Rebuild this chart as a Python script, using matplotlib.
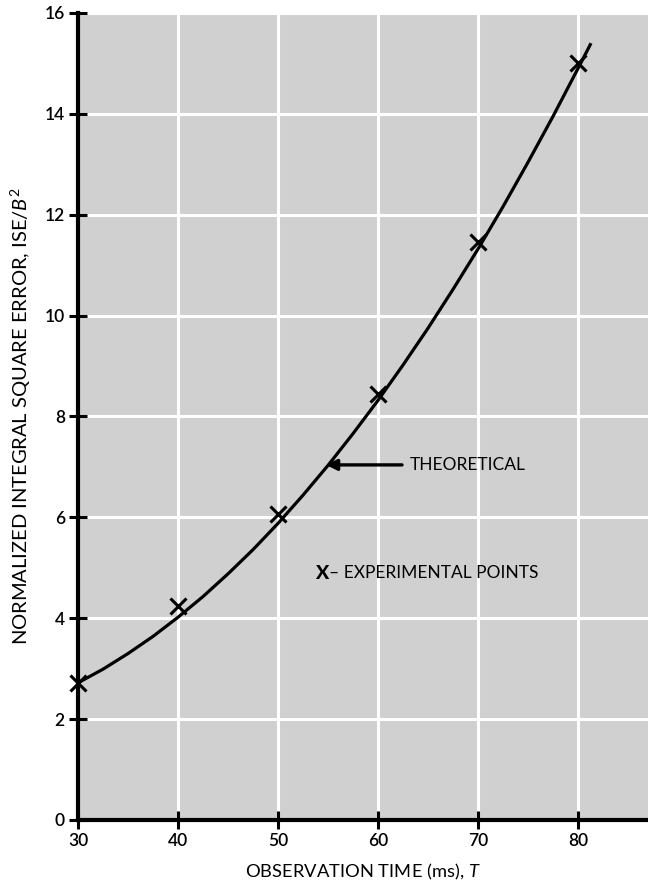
import matplotlib
matplotlib.use("Agg")
import matplotlib.pyplot as plt

# theoretical curve
theory_t = [30, 32.5, 35, 37.5, 40, 42.5, 45, 47.5, 50, 52.5, 55, 57.5,
            60, 62.5, 65, 67.5, 70, 72.5, 75, 77.5, 80, 81.3]
theory_ise = [2.72, 2.99, 3.30, 3.64, 4.02, 4.43, 4.88, 5.36, 5.88, 6.44, 7.03, 7.66,
              8.32, 9.02, 9.75, 10.52, 11.32, 12.16, 13.04, 13.95, 14.90, 15.40]

# experimental points
exp_t = [30, 40, 50, 60, 70, 80]
exp_ise = [2.72, 4.25, 6.07, 8.45, 11.45, 15.0]

x_ticks = [30, 40, 50, 60, 70, 80]
y_ticks = [0, 2, 4, 6, 8, 10, 12, 14, 16]

plt.rcParams["font.family"] = ["Lato", "DejaVu Sans"]
plt.rcParams["mathtext.fontset"] = "custom"
plt.rcParams["mathtext.rm"] = "Lato"
plt.rcParams["mathtext.it"] = "Lato:italic"

fig = plt.figure(figsize=(6.48, 8.82), dpi=100)
ax = fig.add_axes([0.1204, 0.0703, 0.8796, 0.9150])
ax.set_facecolor("#d0d0d0")

ax.set_xlim(30, 87)
ax.set_ylim(0, 16)
ax.set_xticks(x_ticks)
ax.set_yticks(y_ticks)

# graph-paper grid
ax.grid(True, color="white", linewidth=2.2)
ax.set_axisbelow(True)

for side in ["top", "right"]:
    ax.spines[side].set_visible(False)
for side in ["left", "bottom"]:
    ax.spines[side].set_linewidth(3)
    ax.spines[side].set_color("black")

ax.tick_params(direction="inout", length=13, width=2.2, colors="black",
               labelsize=12.5, pad=3)
for lab in ax.get_xticklabels() + ax.get_yticklabels():
    lab.set_fontweight("semibold")

ax.plot(theory_t, theory_ise, color="black", linewidth=2.3, solid_capstyle="butt",
        zorder=3)
ax.plot(exp_t, exp_ise, linestyle="none", marker="x", markersize=11,
        markeredgewidth=2.2, color="black", zorder=4, clip_on=False)

ax.annotate("", xy=(54.8, 7.04), xytext=(62.4, 7.04),
            arrowprops=dict(arrowstyle="-|>", color="black", lw=2.4,
                            mutation_scale=16, shrinkA=0, shrinkB=0))
ax.text(63.2, 7.04, "THEORETICAL", fontsize=12.5, va="center", ha="left")

ax.text(53.7, 4.89, "X", fontsize=14, fontweight="black", va="center", ha="left")
ax.text(55.1, 4.89, "\u2013 EXPERIMENTAL POINTS", fontsize=12.5, va="center", ha="left")

ax.set_xlabel("OBSERVATION TIME (ms), $T$", fontsize=13.2, labelpad=9)
ax.set_ylabel("NORMALIZED INTEGRAL SQUARE ERROR, ISE/$B^2$", fontsize=14.5,
              labelpad=8)

fig.savefig("out.png", dpi=100)
